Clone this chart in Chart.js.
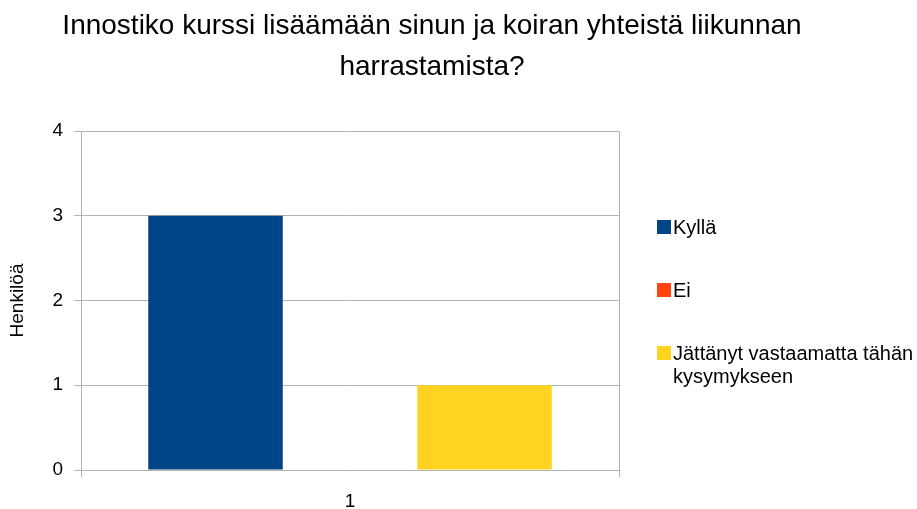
<!DOCTYPE html>
<html>
<head>
<meta charset="utf-8">
<script src="https://cdn.jsdelivr.net/npm/chart.js@4"></script>
<style>
  html, body { margin: 0; padding: 0; background: #fff; }
  #wrap { width: 917px; height: 509px; }
</style>
</head>
<body>
<div id="wrap"><canvas id="kaavio" width="917" height="509"></canvas></div>
<script>
// Kyselyn tulokset
const otsikko = ["Innostiko kurssi lisäämään sinun ja koiran yhteistä liikunnan", "harrastamista?"];
const kategoriat = ["1"];
const sarjat = ["Kyllä", "Ei", "Jättänyt vastaamatta tähän kysymykseen"];
const arvot = [[3], [0], [1]];
const varit = ["#004586", "#ff420e", "#ffd320"];
const yAkseli = "Henkilöä";

const fontti = "'Liberation Sans', Arial, sans-serif";
const harmaa = "#b3b3b3";

// otsikko ja selite piirretään itse, jotta asettelu vastaa alkuperäistä
const koristeet = {
  id: "koristeet",
  afterDraw(chart) {
    const ctx = chart.ctx;
    ctx.save();
    ctx.fillStyle = "#000";
    ctx.textAlign = "center";
    ctx.textBaseline = "alphabetic";
    ctx.font = "28px " + fontti;
    otsikko.forEach((rivi, i) => ctx.fillText(rivi, 432, 34 + i * 41));

    // selite
    ctx.textAlign = "left";
    ctx.textBaseline = "middle";
    ctx.font = "20px " + fontti;
    const maxLeveys = 917 - 673;
    chart.data.datasets.forEach((ds, i) => {
      const y = 227 + i * 63;
      ctx.fillStyle = ds.backgroundColor;
      ctx.fillRect(657, y - 7, 14, 14);
      ctx.fillStyle = "#000";
      // rivitys sanoittain
      const sanat = ds.label.split(" ");
      let rivit = [], nyt = "";
      sanat.forEach(s => {
        const koe = nyt ? nyt + " " + s : s;
        if (ctx.measureText(koe).width > maxLeveys && nyt) {
          rivit.push(nyt);
          nyt = s;
        } else {
          nyt = koe;
        }
      });
      rivit.push(nyt);
      rivit.forEach((r, j) => ctx.fillText(r, 673, y + 1 + j * 23));
    });
    ctx.restore();
  }
};

new Chart(document.getElementById("kaavio"), {
  type: "bar",
  data: {
    labels: kategoriat,
    datasets: sarjat.map((nimi, i) => ({
      label: nimi,
      data: arvot[i],
      backgroundColor: varit[i],
      borderWidth: 0,
      categoryPercentage: 0.75,
      barPercentage: 1.0
    }))
  },
  options: {
    responsive: false,
    animation: false,
    layout: { padding: { top: 131, right: 298, bottom: 0, left: 0 } },
    plugins: {
      legend: { display: false },
      title: { display: false },
      tooltip: { enabled: false }
    },
    scales: {
      x: {
        afterFit: (s) => { s.height = 39; },
        grid: { color: harmaa, lineWidth: 1, tickLength: 7, offset: true },
        border: { color: harmaa },
        ticks: { color: "#000", font: { family: fontti, size: 19 }, padding: 13 }
      },
      y: {
        min: 0,
        max: 4,
        afterFit: (s) => { s.width = 81; },
        grid: { color: harmaa, lineWidth: 1, tickLength: 7 },
        border: { color: harmaa },
        ticks: { stepSize: 1, color: "#000", font: { family: fontti, size: 19 }, padding: 11 },
        title: {
          display: true,
          text: yAkseli,
          color: "#000",
          font: { family: fontti, size: 19 },
          padding: { top: 6, bottom: 0 }
        }
      }
    }
  },
  plugins: [koristeet]
});
</script>
</body>
</html>
